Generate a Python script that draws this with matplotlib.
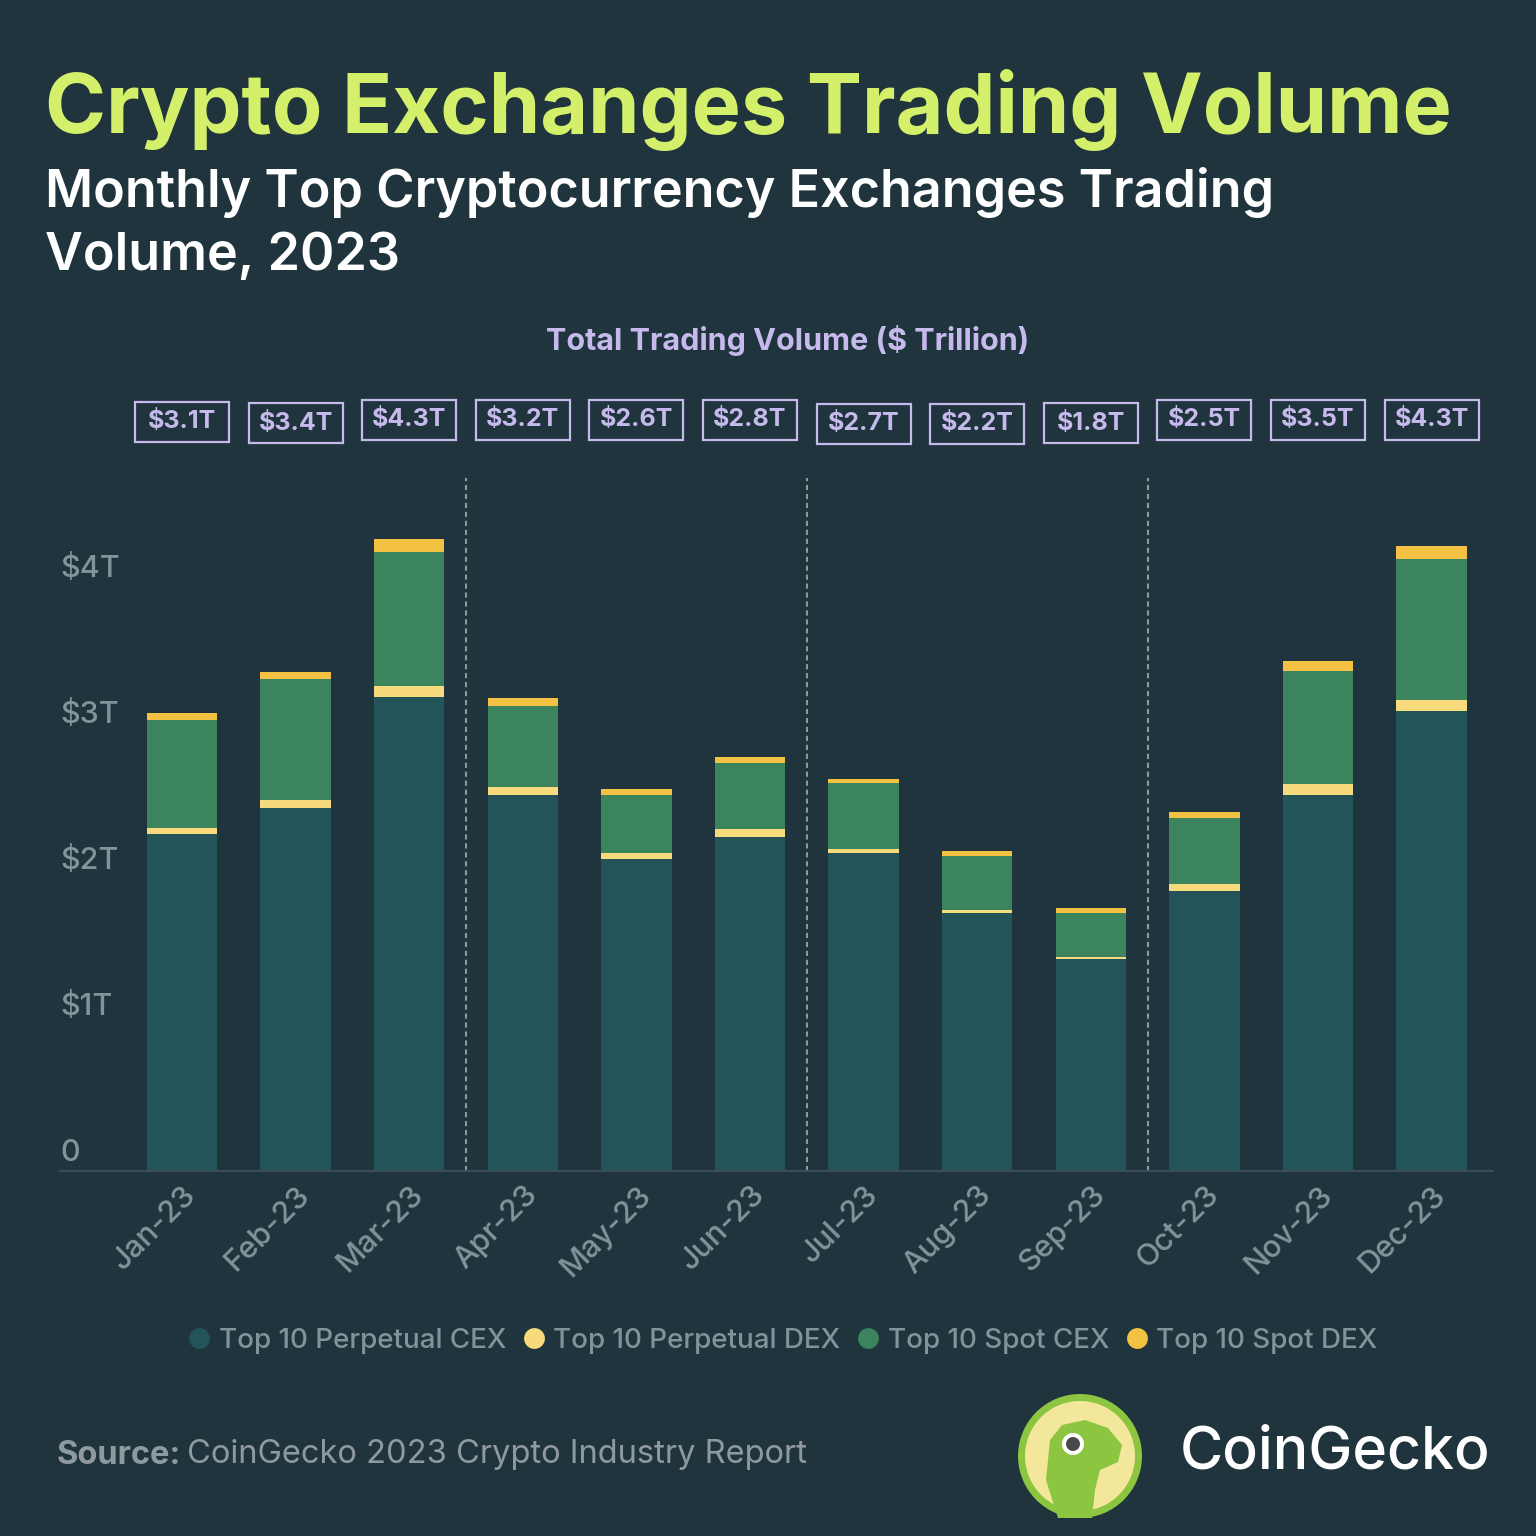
import matplotlib.pyplot as plt
from matplotlib.patches import Rectangle, Circle, Polygon
from matplotlib.lines import Line2D
from matplotlib.transforms import blended_transform_factory, ScaledTranslation

# monthly values, $ trillion
months = ["Jan-23", "Feb-23", "Mar-23", "Apr-23", "May-23", "Jun-23",
          "Jul-23", "Aug-23", "Sep-23", "Oct-23", "Nov-23", "Dec-23"]
perp_cex = [2.31, 2.49, 3.25, 2.58, 2.14, 2.29, 2.18, 1.77, 1.45, 1.92, 2.58, 3.15]
perp_dex = [0.04, 0.05, 0.075, 0.05, 0.04, 0.055, 0.03, 0.02, 0.02, 0.05, 0.075, 0.075]
spot_cex = [0.74, 0.83, 0.92, 0.56, 0.40, 0.45, 0.45, 0.37, 0.30, 0.45, 0.77, 0.97]
spot_dex = [0.05, 0.05, 0.09, 0.05, 0.04, 0.04, 0.03, 0.035, 0.03, 0.04, 0.07, 0.09]
totals = ["$3.1T", "$3.4T", "$4.3T", "$3.2T", "$2.6T", "$2.8T",
          "$2.7T", "$2.2T", "$1.8T", "$2.5T", "$3.5T", "$4.3T"]
y_ticks = [0, 1, 2, 3, 4]
y_labels = ["0", "$1T", "$2T", "$3T", "$4T"]
series_names = ["Top 10 Perpetual CEX", "Top 10 Perpetual DEX", "Top 10 Spot CEX", "Top 10 Spot DEX"]

bg = "#20343e"
colors = ["#235459", "#f7da7c", "#3b845d", "#f4c243"]
lav = "#c6b9ec"
grey = "#7f949b"

plt.rcParams['font.family'] = ['Inter', 'DejaVu Sans']

fig = plt.figure(figsize=(15.36, 15.36), dpi=100, facecolor=bg)
ax = fig.add_axes([60 / 1536, 1 - 1171 / 1536, 1433 / 1536, 693 / 1536])
ax.set_facecolor(bg)

x = list(range(len(months)))
bottom = [0] * len(months)
for vals, c in zip([perp_cex, perp_dex, spot_cex, spot_dex], colors):
    ax.bar(x, vals, bottom=bottom, width=0.62, color=c, linewidth=0)
    bottom = [b + v for b, v in zip(bottom, vals)]

ax.set_xlim(-1.074, 11.54)
ax.set_ylim(0, 4.75)

# quarter separators
for q in [2.5, 5.5, 8.5]:
    ax.axvline(q, color="#8a9ba0", linestyle=(0, (2.5, 1.8)), linewidth=1.5)

for s in ["top", "right", "left"]:
    ax.spines[s].set_visible(False)
ax.spines["bottom"].set_color("#3a4e57")
ax.spines["bottom"].set_linewidth(1.5)

ax.set_yticks([])
for v, lab in zip(y_ticks, y_labels):
    ax.annotate(lab, xy=(0, v), xycoords=("axes fraction", "data"),
                xytext=(0, 3), textcoords="offset points",
                ha="left", va="bottom", fontsize=22, fontweight="medium", color=grey)

ax.set_xticks(x)
ax.set_xticklabels(months, rotation=45, ha="right", va="center",
                   rotation_mode="anchor", fontsize=22, fontweight="medium", color=grey)
ax.tick_params(axis="x", length=0, pad=14)
shift = ScaledTranslation(10 / 100, 0, fig.dpi_scale_trans)
for lbl in ax.get_xticklabels():
    lbl.set_transform(lbl.get_transform() + shift)

# total boxes
tr = blended_transform_factory(ax.transData, fig.transFigure)
box_y = [422, 423, 420, 420, 420, 420, 424, 424, 423, 420, 420, 420]
bw = 94 / 113.6
for i, t in enumerate(totals):
    yc = 1 - box_y[i] / 1536
    ax.add_patch(Rectangle((i - bw / 2, yc - 20 / 1536), bw, 40 / 1536,
                           transform=tr, fill=False, edgecolor=lav,
                           linewidth=1.6, clip_on=False))
    ax.text(i, yc, t, transform=tr, ha="center", va="center",
            fontsize=18, fontweight="bold", color=lav, clip_on=False)

# titles
fig.text(45 / 1536, 1 - 110 / 1536, "Crypto Exchanges Trading Volume",
         fontsize=59.5, fontweight="bold", color="#d4f06a", va="center")
fig.text(45 / 1536, 1 - 192 / 1536, "Monthly Top Cryptocurrency Exchanges Trading",
         fontsize=37.5, fontweight="semibold", color="white", va="center")
fig.text(45 / 1536, 1 - 256 / 1536, "Volume, 2023",
         fontsize=37.5, fontweight="semibold", color="white", va="center")
fig.text(788 / 1536, 1 - 340 / 1536, "Total Trading Volume ($ Trillion)",
         fontsize=22, fontweight="bold", color=lav, ha="center", va="center")

# legend
handles = [Line2D([], [], marker="o", linestyle="", markersize=15,
                  markerfacecolor=c, markeredgewidth=0) for c in colors]
fig.legend(handles, series_names, loc="center", bbox_to_anchor=(780 / 1536, 1 - 1341 / 1536),
           ncol=4, frameon=False, handletextpad=0.1, columnspacing=0.4,
           handlelength=1.2, labelcolor=grey, prop={"size": 20, "weight": "medium"})

# source
fig.text(57 / 1536, 1 - 1455 / 1536, "Source:", fontsize=23.5, fontweight="bold",
         color="#8e9a9e", va="center")
fig.text(187 / 1536, 1 - 1455 / 1536, "CoinGecko 2023 Crypto Industry Report",
         fontsize=23.5, color="#8e9a9e", va="center")

# logo
cx, cy = 1080 / 1536, 1 - 1456 / 1536
fig.patches.append(Circle((cx, cy), 62 / 1536, transform=fig.transFigure,
                          facecolor="#8cc540", edgecolor="none"))
fig.patches.append(Circle((cx, cy), 55 / 1536, transform=fig.transFigure,
                          facecolor="#f3e79c", edgecolor="none"))
head = [(1058, 1518), (1046, 1480), (1050, 1440), (1062, 1425), (1085, 1420),
        (1108, 1428), (1122, 1445), (1118, 1462), (1100, 1470), (1095, 1490), (1092, 1518)]
fig.patches.append(Polygon([(a / 1536, 1 - b / 1536) for a, b in head], closed=True,
                           transform=fig.transFigure, facecolor="#8cc540", edgecolor="none"))
fig.patches.append(Circle((1073 / 1536, 1 - 1444 / 1536), 11 / 1536, transform=fig.transFigure,
                          facecolor="white", edgecolor="none"))
fig.patches.append(Circle((1073 / 1536, 1 - 1444 / 1536), 7 / 1536, transform=fig.transFigure,
                          facecolor="#4a4a4a", edgecolor="none"))
fig.text(1180 / 1536, 1 - 1453 / 1536, "CoinGecko", fontsize=42.5, fontweight="medium",
         color="white", va="center")

fig.savefig("out.png", dpi=100, facecolor=bg)
